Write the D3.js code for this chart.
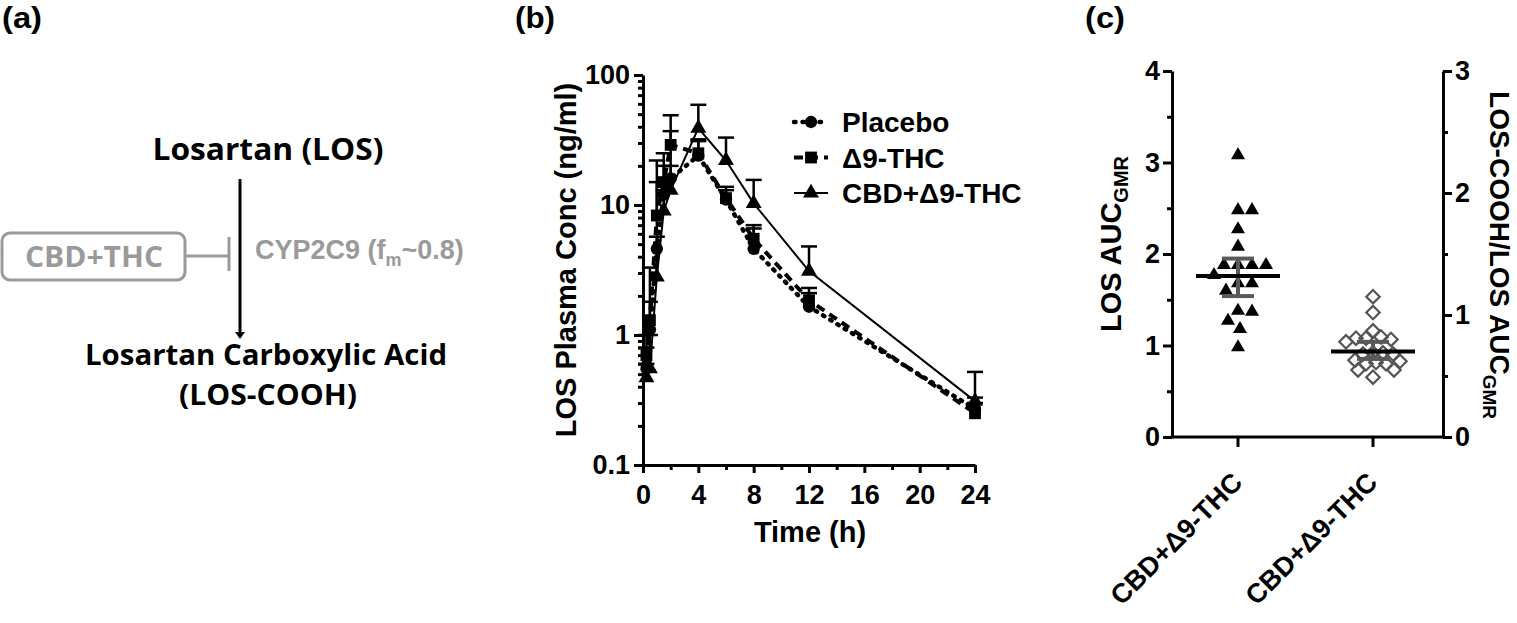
<!DOCTYPE html>
<html><head><meta charset="utf-8">
<script src="https://cdn.jsdelivr.net/npm/d3@7"></script>
<style>
body{margin:0;background:#fff}
svg{display:block;background:#fff}
text{font-family:"Liberation Sans",Arial,sans-serif;font-weight:bold;fill:#000}
</style>
</head><body>
<svg id="fig" width="1517" height="623"></svg>
<script>
// ---------- Panel (b) data ----------
const seriesNames = ["Placebo", "\u03949-THC", "CBD+\u03949-THC"];
const times = [0.25, 0.5, 1, 1.5, 2, 4, 6, 8, 12, 24];
const placeboConc = [0.55, 1.1, 4.6, 12, 16, 24, 11, 4.6, 1.65, 0.27];
const thcConc     = [0.7, 1.3, 8.3, 15, 29, 25, 11.3, 5.5, 1.85, 0.25];
const cbdThcConc  = [0.47, 0.55, 2.8, 9, 13, 39, 22, 10.3, 3.1, 0.31];
const placeboUpper = [0.8, 1.8, 15, 20, 37, 31, 13, 6.6, 2.1, 0.33];
const thcUpper     = [1.0, 3.3, 22, 25, 49, 32, 13.8, 7.0, 2.3, 0.30];
const cbdThcUpper  = [0.6, 1.0, 5.7, 13, 20, 59, 33, 15.6, 4.8, 0.52];
const bYTicks = [0.1, 1, 10, 100];
const bXTicks = [0, 4, 8, 12, 16, 20, 24];

// ---------- Panel (c) data ----------
const cCategories = ["CBD+\u03949-THC", "CBD+\u03949-THC"];
const losAucGmr = [3.08, 2.48, 2.48, 2.27, 2.08, 1.88, 1.88, 1.88, 1.88, 1.77, 1.68, 1.68, 1.60, 1.38, 1.37, 1.27, 1.18, 0.98];
const losAucGmrMean = 1.76;
const losAucGmrCI = [1.54, 1.95];
const coohRatioGmr = [1.15, 1.02, 0.87, 0.80, 0.81, 0.82, 0.81, 0.78, 0.69, 0.68, 0.68, 0.69, 0.62, 0.60, 0.63, 0.61, 0.60, 0.55, 0.55, 0.49];
const coohRatioMean = 0.70;
const coohRatioCI = [0.64, 0.78];
const cLeftTicks = [0, 1, 2, 3, 4];
const cRightTicks = [0, 1, 2, 3];

const svg = d3.select("#fig");
const GRAY = "#9a9a9a";

// ---------- Panel labels ----------
[["(a)", 2], ["(b)", 515], ["(c)", 1085]].forEach(([t, x]) => {
  svg.append("text").attr("x", x).attr("y", 28).attr("font-size", 29)
    .attr("textLength", 40).attr("lengthAdjust", "spacingAndGlyphs").text(t);
});

// ---------- Panel (a) ----------
const A = svg.append("g");
const aFont = "'Open Sans','Noto Sans',sans-serif";
function aText(txt, x, y, len, opts = {}) {
  const t = A.append("text").attr("x", x).attr("y", y).attr("text-anchor", opts.anchor || "middle")
    .style("font-family", aFont).attr("font-size", opts.size || 30).text(txt);
  if (len) t.attr("textLength", len).attr("lengthAdjust", "spacingAndGlyphs");
  if (opts.fill) t.style("fill", opts.fill);
  return t;
}
aText("Losartan (LOS)", 268, 160, 231);
A.append("line").attr("x1", 240).attr("x2", 240).attr("y1", 179).attr("y2", 334)
  .attr("stroke", "#000").attr("stroke-width", 3);
A.append("path").attr("d", d3.line()([[235, 332], [245, 332], [240, 339]])).attr("fill", "#000");
A.append("rect").attr("x", 2).attr("y", 233).attr("width", 183).attr("height", 47).attr("rx", 8)
  .attr("fill", "none").attr("stroke", GRAY).attr("stroke-width", 3);
aText("CBD+THC", 94, 267, 138, {size: 29, fill: GRAY});
A.append("line").attr("x1", 185).attr("x2", 229).attr("y1", 256).attr("y2", 256).attr("stroke", GRAY).attr("stroke-width", 3);
A.append("line").attr("x1", 229).attr("x2", 229).attr("y1", 237).attr("y2", 271).attr("stroke", GRAY).attr("stroke-width", 3);
const cyp = A.append("text").attr("x", 255).attr("y", 259).style("fill", GRAY).attr("font-size", 27);
cyp.append("tspan").text("CYP2C9 (f");
cyp.append("tspan").attr("font-size", 18).attr("dy", 7).text("m");
cyp.append("tspan").attr("dy", -7).text("~0.8)");
aText("Losartan Carboxylic Acid", 266, 365, 362, {size: 28});
aText("(LOS-COOH)", 268, 405, 178, {size: 28});

// ---------- Panel (b) ----------
const xB = d3.scaleLinear().domain([0, 24]).range([643, 975]);
const yB = d3.scaleLog().domain([0.1, 100]).range([465, 75]);
const B = svg.append("g");

function styleAxis(g) {
  g.selectAll("path.domain").attr("stroke", "#000").attr("stroke-width", 3);
  g.selectAll(".tick line").attr("stroke", "#000").attr("stroke-width", 3);
  g.selectAll("text").attr("font-size", 27).attr("font-family", "Liberation Sans, Arial, sans-serif").attr("font-weight", "bold").attr("fill", "#000");
}
const yMinor = [];
[0.1, 1, 10].forEach(d => { for (let k = 2; k <= 9; k++) yMinor.push(d * k); });
B.append("g").attr("transform", "translate(643,0)")
  .call(d3.axisLeft(yB).tickValues(yMinor).tickSize(5).tickSizeOuter(0).tickFormat(""))
  .call(styleAxis).call(g => g.select(".domain").remove());
B.append("g").attr("transform", "translate(643,0)")
  .call(d3.axisLeft(yB).tickValues(bYTicks).tickSize(9).tickSizeOuter(0).tickPadding(4).tickFormat(d => String(d)))
  .call(styleAxis);
B.append("g").attr("transform", "translate(0,465)")
  .call(d3.axisBottom(xB).tickValues(d3.range(2, 24, 4)).tickSize(5).tickSizeOuter(0).tickFormat(""))
  .call(styleAxis).call(g => g.select(".domain").remove());
B.append("g").attr("transform", "translate(0,465)")
  .call(d3.axisBottom(xB).tickValues(bXTicks).tickSize(8).tickSizeOuter(0).tickPadding(12))
  .call(styleAxis);
B.append("text").attr("transform", "translate(576,260) rotate(-90)").attr("text-anchor", "middle")
  .attr("font-size", 29).text("LOS Plasma Conc (ng/ml)");
B.append("text").attr("x", 810).attr("y", 542).attr("text-anchor", "middle")
  .attr("font-size", 29).text("Time (h)");

const series = [
  {name: seriesNames[0], vals: placeboConc, up: placeboUpper, sym: d3.symbolCircle, size: 120, dash: "1.5,7", lw: 4.5, cap: "round"},
  {name: seriesNames[1], vals: thcConc, up: thcUpper, sym: d3.symbolSquare, size: 140, dash: "9,6", lw: 4, cap: "butt"},
  {name: seriesNames[2], vals: cbdThcConc, up: cbdThcUpper, sym: d3.symbolTriangle, size: 110, dash: null, lw: 2, cap: "butt"}
];
const lineB = d3.line().x(d => xB(d[0])).y(d => yB(d[1]));
series.forEach(s => {
  const pts = times.map((t, i) => [t, s.vals[i], s.up[i]]);
  const eb = B.append("g").attr("stroke", "#000").attr("stroke-width", 2.5);
  pts.forEach(p => {
    eb.append("line").attr("x1", xB(p[0])).attr("x2", xB(p[0])).attr("y1", yB(p[1])).attr("y2", yB(p[2]));
    eb.append("line").attr("x1", xB(p[0]) - 8).attr("x2", xB(p[0]) + 8).attr("y1", yB(p[2])).attr("y2", yB(p[2]));
  });
  B.append("path").attr("d", lineB(pts)).attr("fill", "none").attr("stroke", "#000")
    .attr("stroke-width", s.lw).attr("stroke-dasharray", s.dash).attr("stroke-linecap", s.cap);
});
series.forEach(s => {
  times.forEach((t, i) => {
    B.append("path").attr("d", d3.symbol(s.sym, s.size)()).attr("fill", "#000")
      .attr("transform", `translate(${xB(t)},${yB(s.vals[i])})`);
  });
});
series.forEach((s, i) => {
  const ly = 122 + i * 35.5;
  B.append("line").attr("x1", 794).attr("x2", 828).attr("y1", ly).attr("y2", ly).attr("stroke", "#000")
    .attr("stroke-width", s.lw).attr("stroke-dasharray", s.dash).attr("stroke-linecap", s.cap);
  B.append("path").attr("d", d3.symbol(s.sym, s.size)()).attr("fill", "#000").attr("transform", `translate(811,${ly})`);
  B.append("text").attr("x", 842).attr("y", ly + 10).attr("font-size", 28).text(s.name);
});

// ---------- Panel (c) ----------
const C = svg.append("g");
const xC = d3.scalePoint().domain([0, 1]).range([1238, 1373]);
const yL = d3.scaleLinear().domain([0, 4]).range([437, 71]);
const yR = d3.scaleLinear().domain([0, 3]).range([437, 71]);
C.append("g").attr("transform", "translate(1172,0)")
  .call(d3.axisLeft(yL).tickValues(d3.range(0.5, 4, 1)).tickSize(5).tickSizeOuter(0).tickFormat(""))
  .call(styleAxis).call(g => g.select(".domain").remove());
C.append("g").attr("transform", "translate(1172,0)")
  .call(d3.axisLeft(yL).tickValues(cLeftTicks).tickSize(9).tickSizeOuter(0).tickPadding(3).tickFormat(d3.format("d")))
  .call(styleAxis);
C.append("g").attr("transform", "translate(1443,0)")
  .call(d3.axisRight(yR).tickValues(d3.range(0.5, 3, 1)).tickSize(5).tickSizeOuter(0).tickFormat(""))
  .call(styleAxis).call(g => g.select(".domain").remove());
C.append("g").attr("transform", "translate(1443,0)")
  .call(d3.axisRight(yR).tickValues(cRightTicks).tickSize(9).tickSizeOuter(0).tickPadding(3).tickFormat(d3.format("d")))
  .call(styleAxis);
C.append("line").attr("x1", 1170.5).attr("x2", 1444.5).attr("y1", 437).attr("y2", 437).attr("stroke", "#000").attr("stroke-width", 3);
cCategories.forEach((c, i) => {
  C.append("line").attr("x1", xC(i)).attr("x2", xC(i)).attr("y1", 437).attr("y2", 447).attr("stroke", "#000").attr("stroke-width", 3);
  C.append("text").attr("transform", `translate(${xC(i) + 6},${484}) rotate(-45)`).attr("text-anchor", "end")
    .attr("font-size", 27).text(c);
});
const lt = C.append("text").attr("transform", "translate(1121,244) rotate(-90)").attr("text-anchor", "middle").attr("font-size", 29);
lt.append("tspan").text("LOS AUC");
lt.append("tspan").attr("font-size", 20).attr("dy", 7).text("GMR");
const rt = C.append("text").attr("transform", "translate(1490,255) rotate(90)").attr("text-anchor", "middle").attr("font-size", 28);
rt.append("tspan").text("LOS-COOH/LOS AUC");
rt.append("tspan").attr("font-size", 19).attr("dy", 7).text("GMR");

function swarm(values, yScale, cx, d) {
  const pts = values.map(v => ({v, y: yScale(v)})).sort((a, b) => a.y - b.y);
  const placed = [];
  pts.forEach(p => {
    for (let i = 0; i < 400; i++) {
      const off = (i % 2 ? 1 : -1) * Math.ceil(i / 2);
      const ok = placed.every(q => Math.hypot(q.x - (cx + off), q.y - p.y) >= d);
      if (ok) { p.x = cx + off; break; }
    }
    placed.push(p);
  });
  return placed;
}
const tri = swarm(losAucGmr, yL, xC(0), 14);
tri.forEach(p => C.append("path").attr("d", d3.symbol(d3.symbolTriangle, 85)()).attr("fill", "#000")
  .attr("transform", `translate(${p.x},${p.y})`));
const dia = swarm(coohRatioGmr, yR, xC(1), 10);
dia.forEach(p => C.append("path").attr("d", d3.symbol(d3.symbolSquare, 90)()).attr("fill", "none")
  .attr("stroke", "#555").attr("stroke-width", 2.2)
  .attr("transform", `translate(${p.x},${p.y}) rotate(45)`));
function meanCI(cx, scale, mean, ci) {
  C.append("line").attr("x1", cx).attr("x2", cx).attr("y1", scale(ci[0])).attr("y2", scale(ci[1])).attr("stroke", "#595959").attr("stroke-width", 4);
  ci.forEach(v => C.append("line").attr("x1", cx - 16).attr("x2", cx + 16).attr("y1", scale(v)).attr("y2", scale(v)).attr("stroke", "#595959").attr("stroke-width", 4));
  C.append("line").attr("x1", cx - 42).attr("x2", cx + 42).attr("y1", scale(mean)).attr("y2", scale(mean)).attr("stroke", "#000").attr("stroke-width", 4);
}
meanCI(xC(0), yL, losAucGmrMean, losAucGmrCI);
meanCI(xC(1), yR, coohRatioMean, coohRatioCI);
</script>
</body></html>
